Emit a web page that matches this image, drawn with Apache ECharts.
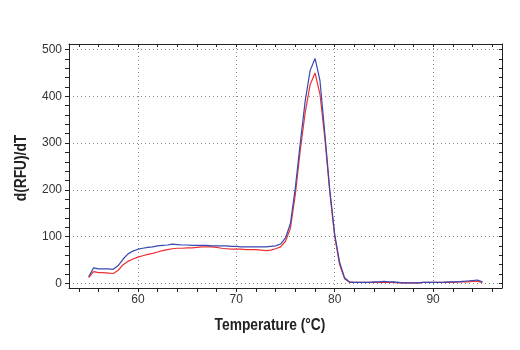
<!DOCTYPE html>
<html>
<head>
<meta charset="utf-8">
<script src="https://cdn.jsdelivr.net/npm/echarts@6/dist/echarts.min.js"></script>
<style>html,body{margin:0;padding:0;background:#fff}#c{width:520px;height:350px}</style>
</head>
<body>
<div id="c"></div>
<script>
const temps = [55,55.5,56,56.5,57,57.5,58,58.5,59,59.5,60,60.5,61,61.5,62,62.5,63,63.5,64,64.5,65,65.5,66,66.5,67,67.5,68,68.5,69,69.5,70,70.5,71,71.5,72,72.5,73,73.5,74,74.5,75,75.5,76,76.5,77,77.5,78,78.5,79,79.5,80,80.5,81,81.5,82,82.5,83,83.5,84,84.5,85,85.5,86,86.5,87,87.5,88,88.5,89,89.5,90,90.5,91,91.5,92,92.5,93,93.5,94,94.5,95];
const blueValues = [14,33,31,31,31,30,38,52,63,69,73,75,77,78,80,81,82,84,83,82,82,81,81,81,81,80,80,80,80,79,79,78,78,78,78,78,78,79,80,84,97,128,205,300,390,455,481,434,320,200,105,45,12,3,2,2,2,2,3,3,4,3,3,2,1,1,1,1,2,2,2,2,2,3,3,3,4,5,6,7,3];
const redValues = [12,25,23,23,22,21,28,40,47,52,56,59,62,64,67,70,72,74,75,75,76,76,77,78,78,78,77,75,74,73,73,73,72,72,72,71,70,71,74,78,90,118,190,285,365,425,450,405,310,195,100,40,10,2,2,2,2,2,2,2,2,2,2,1,1,1,1,1,2,2,2,2,2,2,2,3,3,3,4,4,2];
const xMinorTicks = [54,56,58,60,62,64,66,68,70,72,74,76,78,80,82,84,86,88,90,92,94,96];
const xTickLabels = [60,70,80,90];
const yMinorTicks = [0,20,40,60,80,100,120,140,160,180,200,220,240,260,280,300,320,340,360,380,400,420,440,460,480,500];
const yTickLabels = [0,100,200,300,400,500];
const xTitle = 'Temperature (°C)';
const yTitle = 'd(RFU)/dT';

const X_MIN = 53, X_MAX = 97, Y_MIN = -10, Y_MAX = 512;
const titleStyle = {fontFamily:'"Liberation Sans", Arial, sans-serif', fontWeight:'bold', fontSize:16, fill:'#222', textAlign:'center', textVerticalAlign:'middle'};
const lineCol = '#222';
const gridStyle = {show:true, lineStyle:{color:'#888', type:[1,3], width:1}};

const chart = echarts.init(document.getElementById('c'), null, {renderer:'canvas'});
chart.setOption({
  animation:false,
  backgroundColor:'#fff',
  grid:{left:69, right:18, top:44, bottom:62, containLabel:false},
  graphic:[
    {type:'text', x:270, y:326, scaleX:0.86, style:Object.assign({text:xTitle}, titleStyle)},
    {type:'text', x:22, y:168, rotation:Math.PI/2, scaleX:0.86, style:Object.assign({text:yTitle}, titleStyle)}
  ],
  xAxis:[
    {type:'value', min:X_MIN, max:X_MAX, position:'bottom',
     axisLine:{show:true, onZero:false, lineStyle:{color:lineCol, width:1}},
     axisTick:{show:true, inside:false, length:4, customValues:xMinorTicks, lineStyle:{color:lineCol}},
     axisLabel:{show:true, customValues:xTickLabels, fontSize:12, color:'#333', margin:6, fontFamily:'"Liberation Sans", Arial, sans-serif'},
     splitLine:{show:false}},
    {type:'value', min:X_MIN, max:X_MAX, position:'top',
     axisLine:{show:true, onZero:false, lineStyle:{color:lineCol, width:1}},
     axisTick:{show:true, inside:true, length:3, customValues:xMinorTicks, lineStyle:{color:lineCol}},
     axisLabel:{show:false}, splitLine:{show:false}},
    {type:'value', min:X_MIN, max:X_MAX, position:'bottom',
     axisLine:{show:false}, axisTick:{show:false, customValues:xTickLabels},
     axisLabel:{show:false}, splitLine:gridStyle}
  ],
  yAxis:[
    {type:'value', min:Y_MIN, max:Y_MAX, position:'left',
     axisLine:{show:true, onZero:false, lineStyle:{color:lineCol, width:1}},
     axisTick:{show:true, inside:false, length:4, customValues:yMinorTicks, lineStyle:{color:lineCol}},
     axisLabel:{show:true, customValues:yTickLabels, fontSize:12, color:'#333', margin:7, fontFamily:'"Liberation Sans", Arial, sans-serif'},
     splitLine:{show:false}},
    {type:'value', min:Y_MIN, max:Y_MAX, position:'right',
     axisLine:{show:true, onZero:false, lineStyle:{color:lineCol, width:1}},
     axisTick:{show:true, inside:true, length:3, customValues:yMinorTicks, lineStyle:{color:lineCol}},
     axisLabel:{show:false}, splitLine:{show:false}},
    {type:'value', min:Y_MIN, max:Y_MAX, position:'left',
     axisLine:{show:false}, axisTick:{show:false, customValues:yTickLabels},
     axisLabel:{show:false}, splitLine:gridStyle}
  ],
  series:[
    {type:'line', name:'red', xAxisIndex:0, yAxisIndex:0, showSymbol:false, symbol:'none',
     lineStyle:{color:'#ee3030', width:1.2}, data:temps.map((t,i)=>[t, redValues[i]]), z:3},
    {type:'line', name:'blue', xAxisIndex:0, yAxisIndex:0, showSymbol:false, symbol:'none',
     lineStyle:{color:'#3848b0', width:1.2}, data:temps.map((t,i)=>[t, blueValues[i]]), z:4}
  ]
});
</script>
</body>
</html>
